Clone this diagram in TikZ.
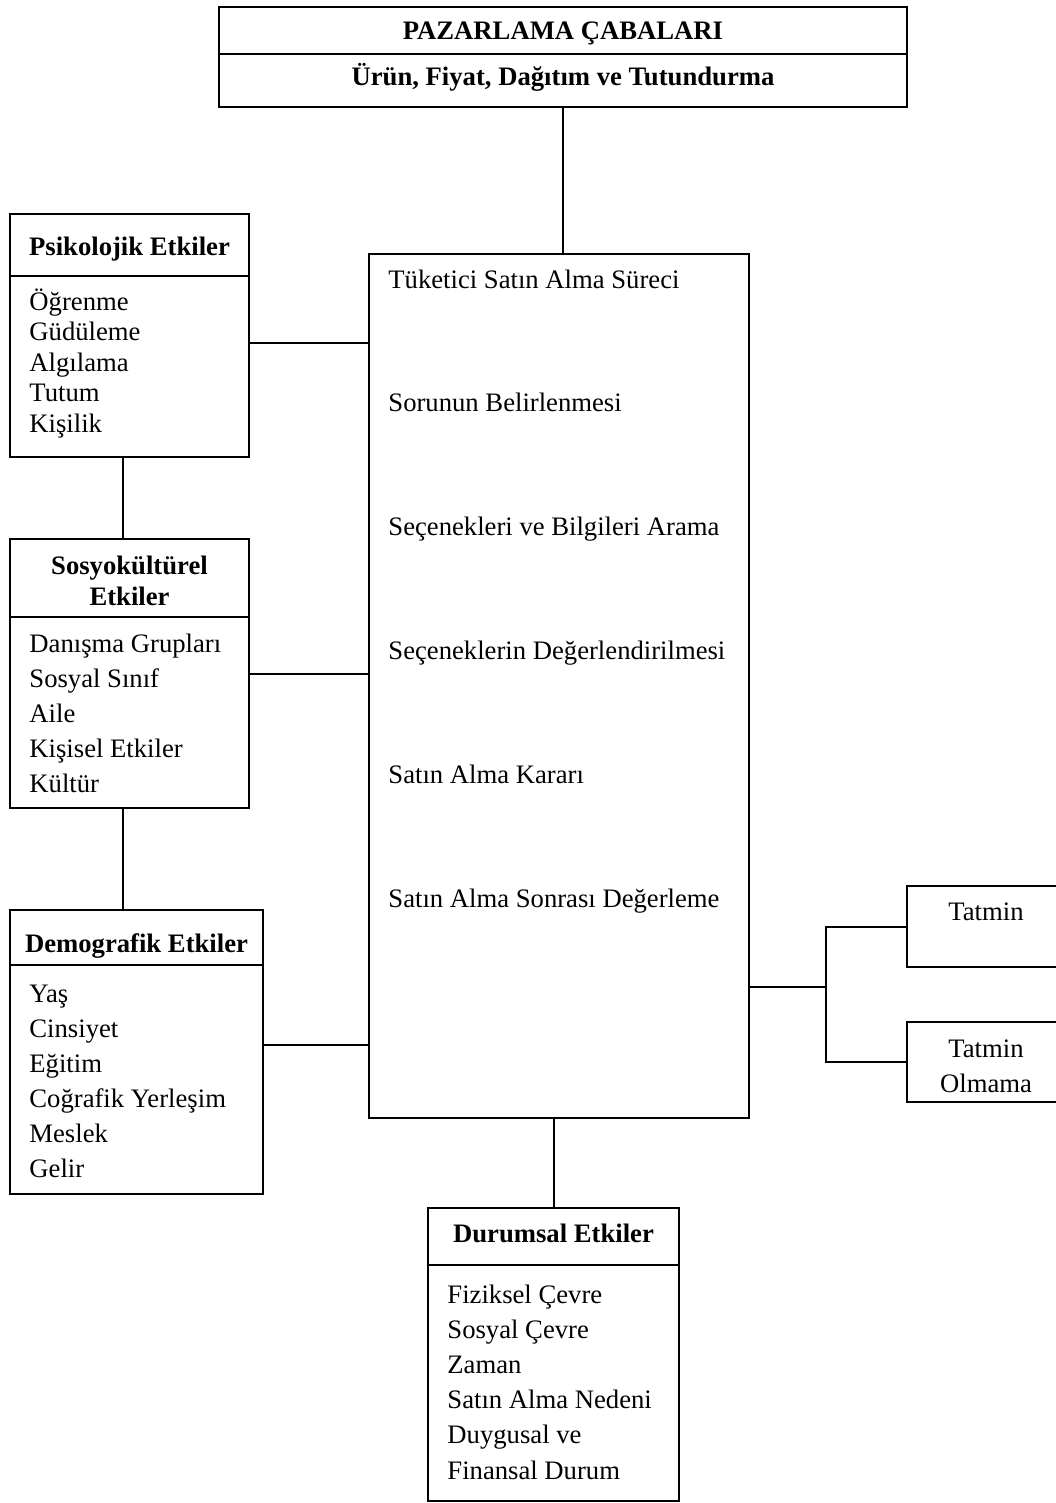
\documentclass[tikz,border=0pt]{standalone}
\usepackage{fontspec}
\setmainfont{Liberation Serif}
\usetikzlibrary{positioning,calc}
\newcommand\px{0.45pt}
\tikzset{box/.style={draw=black,line width=.9pt,anchor=north west,inner sep=0pt},
  line/.style={draw=black,line width=.9pt},
  head/.style={font=\fontsize{12}{14}\selectfont\bfseries,anchor=base,inner sep=0pt},
  item/.style={anchor=base west,inner sep=0pt},
  mid/.style={anchor=base,inner sep=0pt}}
\begin{document}
\begin{tikzpicture}[x=\px,y=-\px,font=\fontsize{12}{14}\selectfont]
\path[use as bounding box] (0,0) rectangle (1056,1503);
\clip (0,0) rectangle (1056,1503);

% pazarlama
\node[box,minimum width=688*\px,minimum height=100*\px] (pazar) at (218,6) {};
\draw[line] ($(pazar.north west)+(0,48)$) -- ($(pazar.north east)+(0,48)$);
\node[head] (pazar1) at ($(pazar.north)+(0,33)$) {PAZARLAMA ÇABALARI};
\node[head] (pazar2) at ($(pazar.north)+(0,79)$) {Ürün, Fiyat, Dağıtım ve Tutundurma};

% surec
\node[box,minimum width=380*\px,minimum height=864*\px] (surec) at (368,253) {};
\foreach \t [count=\i] in {Tüketici Satın Alma Süreci,Sorunun Belirlenmesi,
  Seçenekleri ve Bilgileri Arama,Seçeneklerin Değerlendirilmesi,
  Satın Alma Kararı,Satın Alma Sonrası Değerleme}{
 \node[item] (s\i) at (388,{288+123.8*(\i-1)}) {\t};}

% psikolojik
\node[box,minimum width=239*\px,minimum height=243*\px] (psik) at (9,213) {};
\draw[line] ($(psik.north west)+(0,63)$) -- ($(psik.north east)+(0,63)$);
\node[head] (psikh) at ($(psik.north)+(0,42)$) {Psikolojik Etkiler};
\foreach \t [count=\i] in {Öğrenme,Güdüleme,Algılama,Tutum,Kişilik}{
 \node[item] (p\i) at (29,{310+30.5*(\i-1)}) {\t};}

% sosyokulturel
\node[box,minimum width=239*\px,minimum height=269*\px] (sosyo) at (9,538) {};
\draw[line] ($(sosyo.north west)+(0,79)$) -- ($(sosyo.north east)+(0,79)$);
\node[head] (sosyoh1) at ($(sosyo.north)+(0,36)$) {Sosyokültürel};
\node[head] (sosyoh2) at ($(sosyo.north)+(0,67)$) {Etkiler};
\foreach \t [count=\i] in {Danışma Grupları,Sosyal Sınıf,Aile,Kişisel Etkiler,Kültür}{
 \node[item] (k\i) at (29,{652+35.2*(\i-1)}) {\t};}

% demografik
\node[box,minimum width=253*\px,minimum height=284*\px] (demo) at (9,909) {};
\draw[line] ($(demo.north west)+(0,56)$) -- ($(demo.north east)+(0,56)$);
\node[head] (demoh) at ($(demo.north)+(0,43)$) {Demografik Etkiler};
\foreach \t [count=\i] in {Yaş,Cinsiyet,Eğitim,Coğrafik Yerleşim,Meslek,Gelir}{
 \node[item] (d\i) at (29,{1002+35*(\i-1)}) {\t};}

% durumsal
\node[box,minimum width=251*\px,minimum height=293*\px] (durum) at (427,1207) {};
\draw[line] ($(durum.north west)+(0,58)$) -- ($(durum.north east)+(0,58)$);
\node[head] (durumh) at ($(durum.north)+(0,35)$) {Durumsal Etkiler};
\foreach \t [count=\i] in {Fiziksel Çevre,Sosyal Çevre,Zaman,Satın Alma Nedeni,
  Duygusal ve,Finansal Durum}{
 \node[item] (u\i) at (447,{1303+35.2*(\i-1)}) {\t};}

% tatmin
\node[box,minimum width=158*\px,minimum height=81*\px] (tatmin) at (906,885) {};
\node[mid] (tatmint) at ($(tatmin.north)+(0,35)$) {Tatmin};
\node[box,minimum width=158*\px,minimum height=80*\px] (olmama) at (906,1021) {};
\node[mid] (olmama1) at ($(olmama.north)+(0,36)$) {Tatmin};
\node[mid] (olmama2) at ($(olmama.north)+(0,71)$) {Olmama};

% baglantilar
\draw[line] (pazar.south) -- (pazar.south |- surec.north);
\draw[line] ($(psik.east)+(0,7)$) -- ($(psik.east -| surec.west)+(0,7)$);
\draw[line] (sosyo.east) -- (sosyo.east -| surec.west);
\draw[line] ($(demo.east)+(0,-7)$) -- ($(demo.east -| surec.west)+(0,-7)$);
\draw[line] ($(psik.south)+(-7,0)$) -- ($(psik.south |- sosyo.north)+(-7,0)$);
\draw[line] ($(sosyo.south)+(-7,0)$) -- ($(sosyo.south |- demo.north)+(-7,0)$);
\draw[line] (durum.north) -- (durum.north |- surec.south);
\coordinate (fork) at (826,987);
\draw[line] (fork -| surec.east) -- (fork);
\draw[line] (tatmin.west) -| (fork) |- (olmama.west);
\end{tikzpicture}
\end{document}
